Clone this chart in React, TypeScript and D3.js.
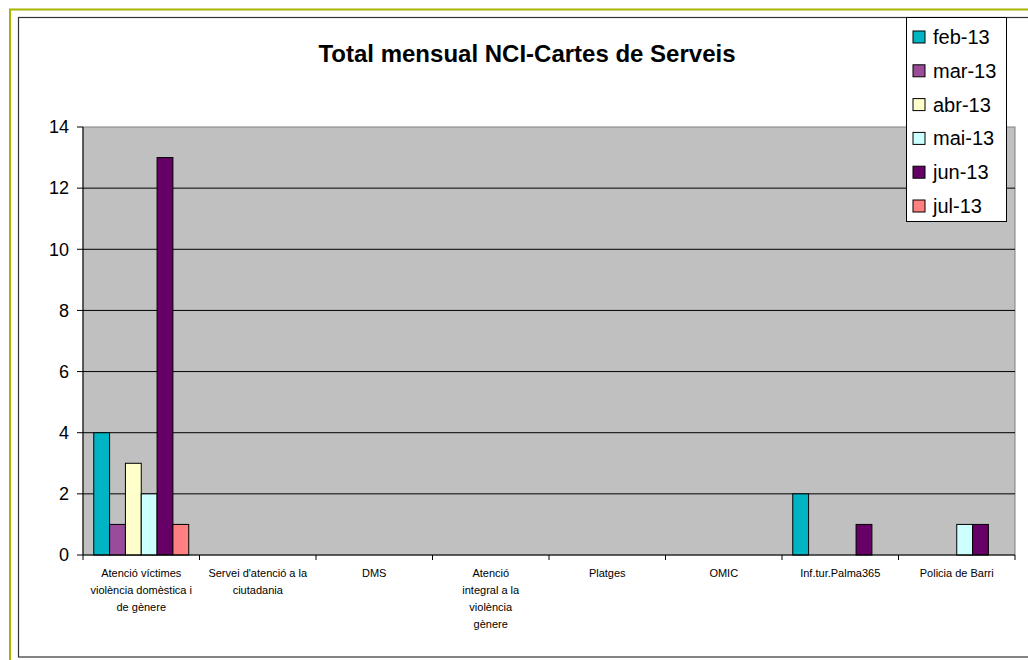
import * as d3 from 'd3';

const categories = [
  'Atenció víctimes violència domèstica i de gènere',
  "Servei d'atenció a la ciutadania",
  'DMS',
  'Atenció integral a la violència gènere',
  'Platges',
  'OMIC',
  'Inf.tur.Palma365',
  'Policia de Barri',
];

// how each category label is broken into lines under the axis
const categoryLines = [
  ['Atenció víctimes', 'violència domèstica i', 'de gènere'],
  ["Servei d'atenció a la", 'ciutadania'],
  ['DMS'],
  ['Atenció', 'integral a la', 'violència', 'gènere'],
  ['Platges'],
  ['OMIC'],
  ['Inf.tur.Palma365'],
  ['Policia de Barri'],
];

const months = ['feb-13', 'mar-13', 'abr-13', 'mai-13', 'jun-13', 'jul-13'];

const feb13 = [4, 0, 0, 0, 0, 0, 2, 0];
const mar13 = [1, 0, 0, 0, 0, 0, 0, 0];
const abr13 = [3, 0, 0, 0, 0, 0, 0, 0];
const mai13 = [2, 0, 0, 0, 0, 0, 0, 1];
const jun13 = [13, 0, 0, 0, 0, 0, 1, 1];
const jul13 = [1, 0, 0, 0, 0, 0, 0, 0];

const series = [feb13, mar13, abr13, mai13, jun13, jul13];
const colors = ['#00B4C4', '#9A4C9A', '#FFFFCC', '#CCFFFF', '#660066', '#FF8080'];

const yTicks = [0, 2, 4, 6, 8, 10, 12, 14];

const W = 1028;
const H = 660;
const plot = { left: 83, right: 1015, top: 127, bottom: 555 };
const font = 'Arial, "Liberation Sans", sans-serif';

export default function App() {
  const x = d3.scaleBand<string>().domain(categories).range([plot.left, plot.right]).paddingInner(0).paddingOuter(0);
  const inner = d3
    .scaleBand<string>()
    .domain(months)
    .range([0, x.bandwidth()])
    .paddingInner(0)
    .paddingOuter(0.68);
  const y = d3.scaleLinear().domain([0, 14]).range([plot.bottom, plot.top]);

  return (
    <svg width={W} height={H} style={{ position: 'absolute', left: 0, top: 0, display: 'block' }}>
      <rect x={0} y={0} width={W} height={H} fill="#fff" />
      {/* outer frames */}
      <rect x={10} y={9.5} width={W + 20} height={H + 20} fill="none" stroke="#A8B400" strokeWidth={2} />
      <rect x={18.5} y={17.5} width={W} height={639.5} fill="none" stroke="#333" strokeWidth={1.2} />

      <text x={527} y={62} textAnchor="middle" fontFamily={font} fontWeight="bold" fontSize={24} fill="#000">
        Total mensual NCI-Cartes de Serveis
      </text>

      {/* plot area */}
      <rect
        x={plot.left}
        y={plot.top}
        width={plot.right - plot.left}
        height={plot.bottom - plot.top}
        fill="#C0C0C0"
        stroke="#808080"
        strokeWidth={1}
      />
      {yTicks
        .filter((t) => t > 0 && t < 14)
        .map((t) => (
          <line key={t} x1={plot.left} x2={plot.right} y1={y(t)} y2={y(t)} stroke="#000" strokeWidth={1} />
        ))}

      {/* bars */}
      {categories.map((c, ci) => (
        <g key={c} transform={`translate(${x(c)},0)`}>
          {series.map((s, si) =>
            s[ci] > 0 ? (
              <rect
                key={months[si]}
                x={inner(months[si])}
                y={y(s[ci])}
                width={inner.bandwidth()}
                height={y(0) - y(s[ci])}
                fill={colors[si]}
                stroke="#000"
                strokeWidth={1}
              />
            ) : null
          )}
        </g>
      ))}

      {/* y axis */}
      <line x1={plot.left} x2={plot.left} y1={plot.top} y2={plot.bottom} stroke="#000" />
      {yTicks.map((t) => (
        <g key={t}>
          <line x1={plot.left - 6} x2={plot.left} y1={y(t)} y2={y(t)} stroke="#000" />
          <text
            x={plot.left - 14}
            y={y(t)}
            dy="0.35em"
            textAnchor="end"
            fontFamily={font}
            fontSize={18}
            fill="#000"
          >
            {t}
          </text>
        </g>
      ))}

      {/* x axis */}
      <line x1={plot.left} x2={plot.right} y1={plot.bottom} y2={plot.bottom} stroke="#000" />
      {[...categories.map((c) => x(c) as number), plot.right].map((v, i) => (
        <line key={i} x1={v} x2={v} y1={plot.bottom} y2={plot.bottom + 5} stroke="#000" />
      ))}
      {categories.map((c, ci) => (
        <text
          key={c}
          x={(x(c) as number) + x.bandwidth() / 2}
          y={577}
          textAnchor="middle"
          fontFamily={font}
          fontSize={11}
          fill="#000"
        >
          {categoryLines[ci].map((l, li) => (
            <tspan key={li} x={(x(c) as number) + x.bandwidth() / 2} dy={li === 0 ? 0 : 17}>
              {l}
            </tspan>
          ))}
        </text>
      ))}

      {/* legend */}
      <rect x={906.5} y={17.5} width={100} height={204} fill="#fff" stroke="#000" strokeWidth={1} />
      {months.map((m, i) => (
        <g key={m} transform={`translate(913,${37 + i * 33.8})`}>
          <rect x={0} y={-6} width={12} height={12} fill={colors[i]} stroke="#000" strokeWidth={1} />
          <text x={20} y={0} dy="0.35em" fontFamily={font} fontSize={20} fill="#000">
            {m}
          </text>
        </g>
      ))}
    </svg>
  );
}
